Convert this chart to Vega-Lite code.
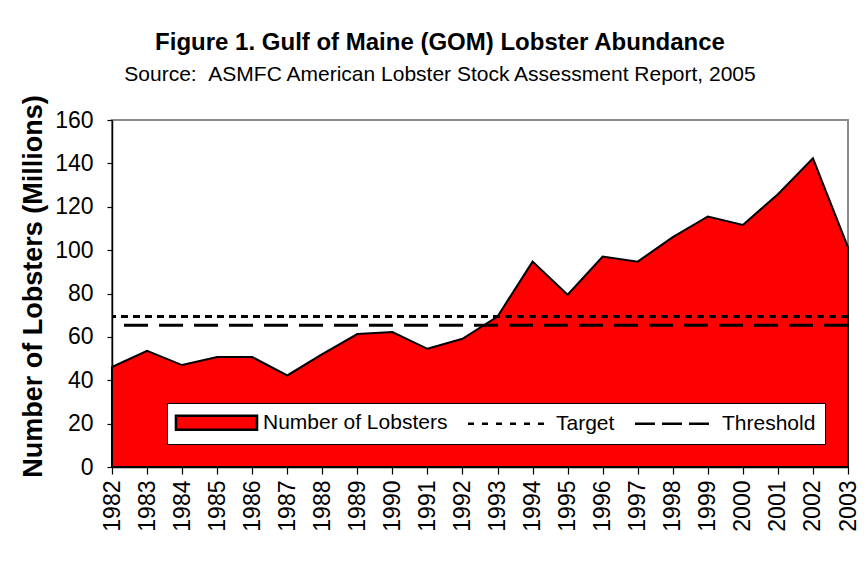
{
  "$schema": "https://vega.github.io/schema/vega-lite/v6.json",
  "autosize": {"type": "none"},
  "padding": {"left": 112, "top": 120, "right": 19, "bottom": 95},
  "width": 736,
  "height": 347,
  "background": "white",
  "title": {
    "text": "Figure 1. Gulf of Maine (GOM) Lobster Abundance",
    "subtitle": "Source:\u00a0\u00a0ASMFC American Lobster Stock Assessment Report, 2005",
    "anchor": "middle",
    "frame": "group",
    "dx": -40,
    "offset": 10,
    "font": "Liberation Sans",
    "fontSize": 24,
    "fontWeight": "bold",
    "color": "black",
    "subtitleFont": "Liberation Sans",
    "subtitleFontSize": 21,
    "subtitleColor": "black",
    "subtitlePadding": 9
  },
  "config": {
    "view": {"stroke": "#8c8c8c", "strokeWidth": 2},
    "axis": {
      "labelFont": "Liberation Sans",
      "titleFont": "Liberation Sans",
      "labelColor": "black",
      "titleColor": "black",
      "domainColor": "black",
      "tickColor": "black",
      "domainWidth": 1.5,
      "tickWidth": 1.2,
      "grid": false,
      "zindex": 1
    }
  },
  "datasets": {
    "abundance": [
      {"year": "1982", "lobsters": 46.1, "series": "Number of Lobsters"},
      {"year": "1983", "lobsters": 53.6, "series": "Number of Lobsters"},
      {"year": "1984", "lobsters": 47.0, "series": "Number of Lobsters"},
      {"year": "1985", "lobsters": 50.7, "series": "Number of Lobsters"},
      {"year": "1986", "lobsters": 50.7, "series": "Number of Lobsters"},
      {"year": "1987", "lobsters": 42.2, "series": "Number of Lobsters"},
      {"year": "1988", "lobsters": 52.0, "series": "Number of Lobsters"},
      {"year": "1989", "lobsters": 61.3, "series": "Number of Lobsters"},
      {"year": "1990", "lobsters": 62.2, "series": "Number of Lobsters"},
      {"year": "1991", "lobsters": 54.5, "series": "Number of Lobsters"},
      {"year": "1992", "lobsters": 59.1, "series": "Number of Lobsters"},
      {"year": "1993", "lobsters": 69.4, "series": "Number of Lobsters"},
      {"year": "1994", "lobsters": 94.7, "series": "Number of Lobsters"},
      {"year": "1995", "lobsters": 79.4, "series": "Number of Lobsters"},
      {"year": "1996", "lobsters": 97.0, "series": "Number of Lobsters"},
      {"year": "1997", "lobsters": 94.7, "series": "Number of Lobsters"},
      {"year": "1998", "lobsters": 106.0, "series": "Number of Lobsters"},
      {"year": "1999", "lobsters": 115.5, "series": "Number of Lobsters"},
      {"year": "2000", "lobsters": 111.6, "series": "Number of Lobsters"},
      {"year": "2001", "lobsters": 125.8, "series": "Number of Lobsters"},
      {"year": "2002", "lobsters": 142.3, "series": "Number of Lobsters"},
      {"year": "2003", "lobsters": 101.3, "series": "Number of Lobsters"}
    ],
    "refs": [
      {"series": "Target", "lobsters": 69.4},
      {"series": "Threshold", "lobsters": 65.4}
    ]
  },
  "layer": [
    {
      "data": {"name": "abundance"},
      "mark": {"type": "area", "stroke": "black", "strokeWidth": 2, "strokeJoin": "miter", "fillOpacity": 1},
      "encoding": {
        "x": {
          "field": "year",
          "type": "ordinal",
          "scale": {"type": "point", "padding": 0},
          "axis": {
            "title": null,
            "labelAngle": 270,
            "labelFontSize": 23,
            "labelPadding": 6,
            "labelOverlap": false,
            "tickSize": 7
          }
        },
        "y": {
          "field": "lobsters",
          "type": "quantitative",
          "scale": {"domain": [0, 160], "nice": false},
          "axis": {
            "values": [0, 20, 40, 60, 80, 100, 120, 140, 160],
            "title": "Number of Lobsters (Millions)",
            "titleFontSize": 27,
            "titleFontWeight": "bold",
            "titleAngle": 270,
            "titleAlign": "center",
            "titleBaseline": "middle",
            "titleX": -79,
            "titleY": 166,
            "labelFontSize": 23,
            "labelPadding": 14,
            "tickSize": 5
          }
        },
        "color": {
          "field": "series",
          "type": "nominal",
          "scale": {
            "domain": ["Number of Lobsters", "Target", "Threshold"],
            "range": ["#ff0000", "#000000", "#000000"]
          },
          "legend": {
            "title": null,
            "orient": "none",
            "legendX": 55,
            "legendY": 283,
            "direction": "horizontal",
            "fillColor": "white",
            "strokeColor": "black",
            "padding": 9,
            "columnPadding": 14,
            "labelOffset": 66,
            "labelLimit": 400,
            "labelFont": "Liberation Sans",
            "labelFontSize": 21,
            "labelColor": "black",
            "symbolSize": 196,
            "symbolStrokeColor": "black",
            "symbolStrokeWidth": 2.5,
            "encoding": {
              "symbols": {
                "shape": {"value": {"expr": "datum.value === 'Number of Lobsters' ? 'M-5.79,-1H5.79V1H-5.79Z' : (datum.value === 'Threshold' ? 'M-5.79,0H4.78' : 'M-5.93,0H5.93')"}},
                "x": {"value": 40.5},
                "fill": {"value": {"expr": "datum.value === 'Number of Lobsters' ? '#ff0000' : 'transparent'"}},
                "stroke": {"value": "#000000"},
                "strokeOpacity": {"value": 1},
                "strokeWidth": {"value": 2.5},
                "strokeDash": {"value": {"expr": "datum.value === 'Target' ? [6, 8] : (datum.value === 'Threshold' ? [20, 7] : [1000, 0])"}},
                "opacity": {"value": 1},
                "fillOpacity": {"value": 1}
              }
            }
          }
        }
      }
    },
    {
      "data": {"name": "refs"},
      "mark": {"type": "rule", "strokeWidth": 3, "color": "#000000"},
      "encoding": {
        "y": {"field": "lobsters", "type": "quantitative"},
        "strokeDash": {
          "field": "series",
          "type": "nominal",
          "scale": {"domain": ["Target", "Threshold"], "range": [[7, 5], [24, 11]]},
          "legend": null
        }
      }
    }
  ]
}
